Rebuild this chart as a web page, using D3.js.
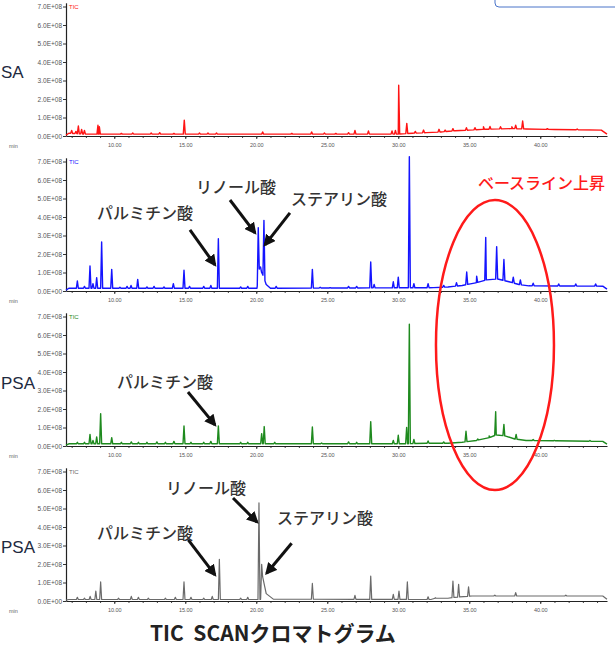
<!DOCTYPE html>
<html><head><meta charset="utf-8">
<script src="https://cdn.jsdelivr.net/npm/d3@7"></script>
<style>
body{margin:0;background:#fff;}
svg{display:block;}
</style>
</head><body>
<svg id="chart" width="615" height="649"></svg>
<script>
// ---------- data ----------
const timeDomain = [6.6, 44.7];
const yTickValues = [0, 1, 2, 3, 4, 5, 6, 7];
const yTickLabels = ["0.0E+00","1.0E+08","2.0E+08","3.0E+08","4.0E+08","5.0E+08","6.0E+08","7.0E+08"];
const xTickValues = [10, 15, 20, 25, 30, 35, 40];
const xTickLabels = ["10.00","15.00","20.00","25.00","30.00","35.00","40.00"];
const panelLabels = ["SA", "", "PSA", "PSA"];
const traceNames = ["TIC", "TIC", "TIC", "TIC"];

// panel 1 (red)
const redPeakTimes  = [7.0,7.3,7.47,7.7,7.9,8.85,8.95,10.5,11.3,12.6,13.2,14.2,14.93,16.0,16.6,17.2,20.45,22.5,23.9,24.8,25.6,26.5,26.95,27.9,29.56,29.8,30.03,30.6,31.2,31.78,32.87,33.3,33.85,34.8,35.4,36.0,36.46,37.2,38.0,38.27,38.76,40.5,42.6];
const redPeakValues = [0.3,0.25,0.54,0.36,0.3,0.58,0.5,0.14,0.16,0.16,0.18,0.14,0.86,0.16,0.16,0.16,0.22,0.14,0.22,0.16,0.14,0.18,0.3,0.27,0.27,0.3,2.74,0.68,0.25,0.32,0.36,0.32,0.4,0.45,0.45,0.5,0.52,0.5,0.5,0.58,0.81,0.4,0.38];
const redBaseTimes  = [6.6,6.8,8.0,30.0,31.0,32.0,33.0,34.0,35.0,36.0,38.0,39.0,41.0,44.3,44.7];
const redBaseValues = [0.05,0.15,0.1,0.1,0.15,0.18,0.22,0.28,0.32,0.36,0.4,0.38,0.35,0.32,0.1];

// panel 2 (blue)
const bluePeakTimes  = [7.4,7.9,8.29,8.5,8.76,9.11,9.82,10.4,10.9,11.18,11.65,12.3,12.8,13.5,14.16,14.91,15.3,16.3,16.8,17.33,18.9,19.4,20.14,20.3,20.54,21.4,23.95,24.5,25.2,26.5,27.07,28.06,28.3,29.65,30.0,30.78,31.1,32.1,33.2,34.1,34.82,35.52,36.16,36.93,37.44,38.1,38.6,39.5,41.3,42.5,43.9];
const bluePeakValues = [0.54,0.25,1.35,0.4,0.72,2.65,1.17,0.2,0.25,0.3,0.63,0.22,0.25,0.22,0.4,1.12,0.25,0.25,0.3,2.83,0.22,0.25,3.42,1.3,3.82,0.25,1.17,0.2,0.18,0.25,0.25,1.57,0.35,0.5,0.75,7.26,0.4,0.4,0.3,0.45,1.03,0.8,2.9,2.4,1.7,0.75,0.6,0.42,0.38,0.38,0.38];
const blueBaseTimes  = [6.6,6.8,20.05,20.22,20.45,20.7,21.0,32.5,33.5,34.5,35.5,36.2,37.0,37.8,38.5,39.2,44.4,44.7];
const blueBaseValues = [0.05,0.15,0.15,1.25,0.9,0.35,0.15,0.18,0.22,0.3,0.45,0.6,0.65,0.5,0.35,0.28,0.26,0.1];

// panel 3 (green)
const greenPeakTimes  = [7.4,7.9,8.29,8.5,8.76,9.04,9.82,10.5,11.2,11.7,12.3,13.0,13.6,14.2,14.91,15.4,16.3,16.8,17.33,18.9,19.4,20.38,20.56,21.3,23.95,24.6,26.5,27.07,28.06,29.65,30.0,30.59,30.78,31.1,32.1,33.2,34.77,35.6,36.4,36.86,37.44,38.3,39.5,41.0,43.5];
const greenPeakValues = [0.2,0.2,0.63,0.3,0.49,1.75,0.45,0.2,0.22,0.2,0.2,0.22,0.2,0.25,1.08,0.2,0.2,0.25,1.08,0.2,0.2,0.67,1.05,0.2,1.03,0.16,0.22,0.2,1.32,0.3,0.58,1.0,6.58,0.35,0.27,0.22,0.8,0.38,0.55,1.85,1.17,0.63,0.35,0.3,0.3];
const greenBaseTimes  = [6.6,6.8,30.5,32.0,33.5,34.5,35.5,36.4,36.9,37.5,38.2,39.0,44.4,44.7];
const greenBaseValues = [0.05,0.12,0.12,0.15,0.15,0.2,0.3,0.45,0.6,0.55,0.38,0.3,0.25,0.1];

// panel 4 (gray)
const grayPeakTimes  = [7.4,7.9,8.3,8.7,9.04,10.3,11.2,11.7,12.4,13.6,14.3,14.91,15.4,16.3,16.9,17.4,18.9,19.4,20.19,20.38,23.95,26.95,28.06,29.65,30.05,30.64,32.1,32.6,33.85,34.25,34.95,36.8,38.27,41.8];
const grayPeakValues = [0.2,0.15,0.25,0.54,1.03,0.15,0.25,0.2,0.15,0.15,0.2,1.03,0.2,0.15,0.25,2.25,0.15,0.2,5.3,1.98,0.95,0.3,1.35,0.36,0.54,1.03,0.23,0.18,1.08,0.9,0.77,0.32,0.45,0.32];
const grayBaseTimes  = [6.6,6.8,20.3,20.45,20.7,21.2,32.3,32.6,33.5,34.0,35.2,44.4,44.7];
const grayBaseValues = [0.05,0.08,0.08,1.3,0.4,0.1,0.08,0.15,0.15,0.2,0.27,0.27,0.1];

// annotations: text placed at (time, value) in a panel
const noteTexts  = ["パルミチン酸","リノール酸","ステアリン酸","パルミチン酸","リノール酸","パルミチン酸","ステアリン酸"];
const notePanels = [1,1,1,2,3,3,3];
const noteTimes  = [8.78,15.75,22.45,10.19,13.64,8.78,21.46];
const noteValues = [3.89,5.30,4.65,3.14,5.78,3.35,4.16];
// arrows: from (t0,v0) to (t1,v1) in a panel
const arrowPanels = [1,1,1,2,3,3,3];
const arrowT0 = [15.33,18.15,22.37,15.19,18.36,15.21,22.49];
const arrowV0 = [3.30,4.92,4.22,2.92,5.57,3.30,3.12];
const arrowT1 = [17.09,19.91,20.61,17.09,20.05,17.09,20.73];
const arrowV1 = [1.41,3.14,2.49,1.14,4.27,1.41,1.50];

// ---------- layout ----------
const svg = d3.select("#chart");
const x = d3.scaleLinear().domain(timeDomain).range([66, 607]);
const panelBase = [136, 291, 446, 601];
const ys = panelBase.map(b => d3.scaleLinear().domain([0, 7.2]).range([b, b - 133.2]));
const colors = ["#ff1414", "#1414ff", "#1e8a1e", "#6a6a6a"];
const tickFont = "Liberation Sans, Arial, sans-serif";
const jpFont = "Noto Sans CJK JP, sans-serif";

const panels = [
  {pt: redPeakTimes, pv: redPeakValues, bt: redBaseTimes, bv: redBaseValues},
  {pt: bluePeakTimes, pv: bluePeakValues, bt: blueBaseTimes, bv: blueBaseValues},
  {pt: greenPeakTimes, pv: greenPeakValues, bt: greenBaseTimes, bv: greenBaseValues},
  {pt: grayPeakTimes, pv: grayPeakValues, bt: grayBaseTimes, bv: grayBaseValues}
];

function baseAt(bt, bv, t) {
  const i = d3.bisectRight(bt, t);
  if (i <= 0) return bv[0];
  if (i >= bt.length) return bv[bv.length - 1];
  const f = (t - bt[i - 1]) / (bt[i] - bt[i - 1]);
  return bv[i - 1] + f * (bv[i] - bv[i - 1]);
}
function traceOf(p) {
  const w = 0.07;
  const pts = p.bt.map((t, i) => [t, p.bv[i]]);
  p.pt.forEach((t, i) => {
    pts.push([t - w, baseAt(p.bt, p.bv, t - w)]);
    pts.push([t, Math.max(p.pv[i], baseAt(p.bt, p.bv, t))]);
    pts.push([t + w, baseAt(p.bt, p.bv, t + w)]);
  });
  pts.sort((a, b) => a[0] - b[0]);
  return pts;
}

// partial blue box at top right
svg.append("rect").attr("x", 495).attr("y", -20).attr("width", 140).attr("height", 27)
  .attr("rx", 4).attr("fill", "#fff").attr("stroke", "#4a74c9").attr("stroke-width", 1);

panels.forEach((p, k) => {
  const y = ys[k];
  const g = svg.append("g");
  g.append("g").attr("transform", `translate(0,${panelBase[k]})`)
    .call(d3.axisBottom(x).tickValues(d3.range(7, 45)).tickSize(2).tickFormat(""))
    .call(a => a.select(".domain").remove())
    .call(a => a.selectAll("line").attr("stroke", "#444"));
  g.append("g").attr("transform", `translate(0,${panelBase[k]})`)
    .call(d3.axisBottom(x).tickValues(xTickValues).tickSize(3).tickSizeOuter(0)
      .tickFormat((d, i) => xTickLabels[i]))
    .call(a => a.select(".domain").attr("stroke", "#222").attr("stroke-width", 1.2))
    .call(a => a.selectAll("line").attr("stroke", "#333"))
    .call(a => a.selectAll("text").attr("font-size", 5.5).attr("font-family", tickFont)
      .attr("fill", "#555").attr("dy", "0.9em"));
  g.append("g").attr("transform", "translate(66,0)")
    .call(d3.axisLeft(y).tickValues(yTickValues).tickSize(3).tickSizeOuter(0)
      .tickFormat((d, i) => yTickLabels[i]))
    .call(a => a.select(".domain").attr("stroke", "#222").attr("stroke-width", 1.2))
    .call(a => a.selectAll("line").attr("stroke", "#333"))
    .call(a => a.selectAll("text").attr("font-size", 6.5).attr("font-family", tickFont)
      .attr("fill", "#555").attr("x", -4));
  g.append("text").attr("x", 9).attr("y", panelBase[k] + 12)
    .attr("font-size", 5.5).attr("font-family", tickFont).attr("fill", "#666").text("min");
  g.append("text").attr("x", 69).attr("y", y(7) + 2)
    .attr("font-size", 6).attr("font-family", tickFont).attr("fill", colors[k]).text(traceNames[k]);
  g.append("path").datum(traceOf(p))
    .attr("fill", "none").attr("stroke", colors[k]).attr("stroke-width", k === 3 ? 1.2 : 1.4)
    .attr("stroke-linejoin", "round")
    .attr("d", d3.line().x(d => x(d[0])).y(d => y(d[1])));
});

// left labels
const leftY = [78, 0, 389, 553];
panelLabels.forEach((t, k) => {
  if (!t) return;
  svg.append("text").attr("x", 1).attr("y", leftY[k])
    .attr("font-size", 17).attr("font-family", tickFont).attr("fill", "#1e2a40").text(t);
});

// arrow marker
svg.append("defs").append("marker").attr("id", "ah")
  .attr("viewBox", "0 0 10 10").attr("refX", 8).attr("refY", 5)
  .attr("markerUnits", "userSpaceOnUse").attr("markerWidth", 12).attr("markerHeight", 12)
  .attr("orient", "auto")
  .append("path").attr("d", "M0,0 L10,5 L0,10 z").attr("fill", "#111");

arrowPanels.forEach((k, i) => {
  const y = ys[k];
  svg.append("line")
    .attr("x1", x(arrowT0[i])).attr("y1", y(arrowV0[i]))
    .attr("x2", x(arrowT1[i])).attr("y2", y(arrowV1[i]))
    .attr("stroke", "#111").attr("stroke-width", 3).attr("marker-end", "url(#ah)");
});

noteTexts.forEach((t, i) => {
  const y = ys[notePanels[i]];
  svg.append("text").attr("x", x(noteTimes[i])).attr("y", y(noteValues[i]))
    .attr("font-size", 16).attr("font-weight", 500).attr("font-family", jpFont)
    .attr("fill", "#333").text(t);
});

// red annotation
svg.append("text").attr("x", x(35.61)).attr("y", ys[1](5.51))
  .attr("font-size", 16).attr("font-weight", 500).attr("font-family", jpFont)
  .attr("fill", "#ff1a1a").text("ベースライン上昇");
svg.append("ellipse").attr("cx", x(36.81)).attr("cy", 345).attr("rx", 59).attr("ry", 145)
  .attr("fill", "none").attr("stroke", "#ff1a1a").attr("stroke-width", 2.5);

// title
svg.append("text").attr("x", 150).attr("y", 641)
  .attr("font-size", 21).attr("font-weight", "bold")
  .attr("font-family", jpFont).attr("fill", "#222")
  .style("white-space", "pre")
  .text("TIC  SCANクロマトグラム");
</script>
</body></html>
